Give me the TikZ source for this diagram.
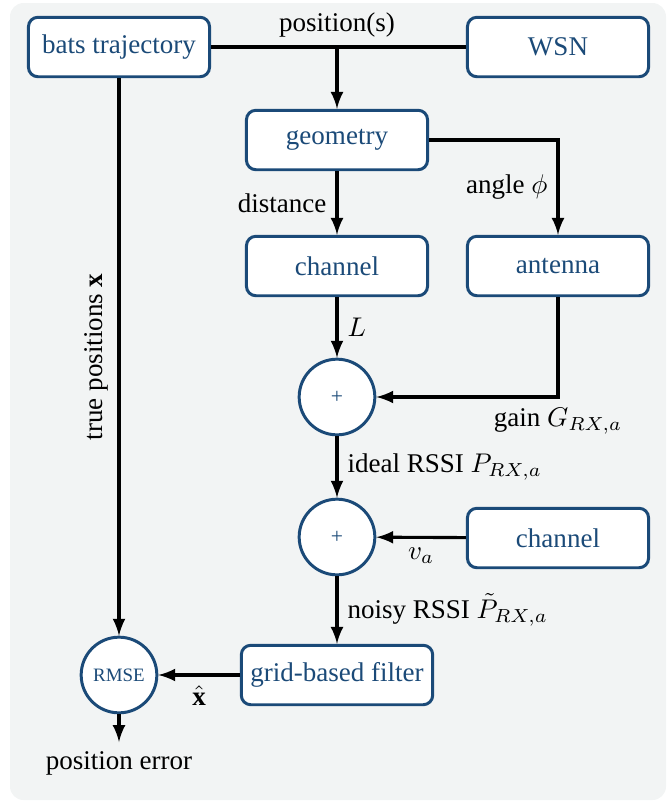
\documentclass[tikz,border=0pt]{standalone}
\usepackage{amsmath}
\usepackage{amssymb}
\usepackage{fontspec}
\setmainfont{Liberation Serif}
\usepackage{xcolor}
\definecolor{boxblue}{HTML}{1B4A78}
\definecolor{panelgray}{HTML}{F2F4F4}
\tikzset{
    block-box/.style = {draw=boxblue, fill=white, line width=1.1pt, rectangle, rounded corners=3.5pt, text=boxblue, minimum width=67pt, minimum height=22pt},
    sum-node/.style = {draw=boxblue, fill=white, line width=1.1pt, circle, text=boxblue, minimum size=28pt, inner sep=0pt},
    signal/.style = {-latex, line width=1.15pt},
}

\begin{document}
\begin{tikzpicture}[x=0.37pt, y=-0.37pt, font=\rmfamily]
\useasboundingbox (0,0) rectangle (668,802);
\fill[panelgray, rounded corners=5pt] (10,3) rectangle (666,800);

% blocks
\node[block-box] (traj) at (119,47) {bats trajectory};
\node[block-box] (wsn) at (558,47) {WSN};
\node[block-box] (geo) at (337,140) {geometry};
\node[block-box] (chan1) at (337,266) {channel};
\node[block-box] (ant) at (558,266) {antenna};
\node[sum-node] (sum1) at (337,397) {\footnotesize +};
\node[sum-node] (sum2) at (337,537) {\footnotesize +};
\node[block-box] (chan2) at (558,538) {channel};
\node[block-box, minimum width=70.5pt] (filter) at (337,675) {grid-based filter};
\node[sum-node] (rmse) at (119,675) {\scriptsize RMSE};
\coordinate (split) at (337,47);
\coordinate (out) at (119,742);

% signal flow
\draw[line width=1.15pt] (traj) -- (wsn);
\node[above] at (split) {position(s)};
\draw[signal] (split) -- (geo);
\draw[signal] (geo) -- node[left] {distance} (chan1);
\draw[signal] (geo.east) -| node[pos=0.75, left] {angle $\phi$} (ant);
\draw[signal] (chan1) -- node[right] {$L$} (sum1);
\draw[signal] (ant) |- node[pos=0.5, below] {gain $G_{RX,a}$} (sum1);
\draw[signal] (sum1) -- node[right] {ideal RSSI $P_{RX,a}$} (sum2);
\draw[signal] (chan2) -- node[below] {$v_a$} (sum2);
\draw[signal] (sum2) -- node[right] {noisy RSSI $\tilde{P}_{RX,a}$} (filter);
\draw[signal] (filter) -- node[below] {$\hat{\mathbf{x}}$} (rmse);
\draw[signal] (traj) -- node[pos=0.5, above, rotate=90] {true positions $\mathbf{x}$} (rmse);
\draw[signal] (rmse) -- (out);
\node[below] at (out) {position error};
\end{tikzpicture}
\end{document}
